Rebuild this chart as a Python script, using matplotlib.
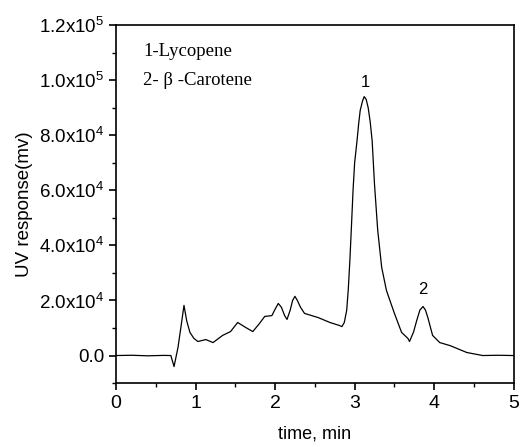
import matplotlib
matplotlib.use('Agg')
import matplotlib.pyplot as plt
from matplotlib.ticker import FixedLocator, MultipleLocator

# Хроматограмма, точки
time_min = [0.0, 0.2, 0.4, 0.6, 0.69, 0.73, 0.78, 0.82, 0.855, 0.89, 0.93, 0.98,
            1.03, 1.13, 1.22, 1.34, 1.44, 1.53, 1.63, 1.72, 1.80, 1.87, 1.96,
            2.00, 2.04, 2.08, 2.12, 2.15, 2.19, 2.22, 2.25, 2.28, 2.32, 2.37,
            2.54, 2.69, 2.81, 2.84, 2.87, 2.90, 2.92, 2.94, 2.96, 2.98, 3.00,
            3.03, 3.05, 3.07, 3.10, 3.12, 3.145, 3.17, 3.195, 3.22, 3.25, 3.29,
            3.34, 3.40, 3.50, 3.59, 3.67, 3.69, 3.74, 3.78, 3.82, 3.86, 3.89,
            3.92, 3.98, 4.07, 4.20, 4.41, 4.61, 4.80, 5.0]
response = [0, 100, -100, 50, 0, -4000, 3000, 11000, 18200, 12500, 8400, 6200,
            5100, 5800, 4700, 7300, 8700, 12000, 10200, 8700, 11500, 14200, 14500,
            16800, 18900, 17500, 14500, 13100, 16500, 20000, 21500, 20000, 17500, 15300,
            13800, 12000, 10900, 10500, 12000, 16400, 24000, 34500, 47000, 60000, 70000,
            78000, 84000, 89000, 92500, 94000, 93000, 90000, 85000, 78000, 62000, 45500,
            32000, 23600, 15300, 8400, 6200, 5100, 8500, 12700, 16500, 17800, 16500,
            13800, 7300, 4700, 3600, 1100, 0, 100, 0]

peak_labels = ['1', '2']
peak_time = [3.13, 3.86]
peak_height = [99000, 24000]

legend_lines = ['1-Lycopene', '2- β -Carotene']

y_ticks = [0, 20000, 40000, 60000, 80000, 100000, 120000]
y_tick_labels = ['0.0', r'$\mathregular{2.0x10^4}$', r'$\mathregular{4.0x10^4}$',
                 r'$\mathregular{6.0x10^4}$', r'$\mathregular{8.0x10^4}$',
                 r'$\mathregular{1.0x10^5}$', r'$\mathregular{1.2x10^5}$']

plt.rcParams['font.family'] = ['Liberation Sans', 'DejaVu Sans']

fig = plt.figure(figsize=(5.2, 4.47), dpi=100)
ax = fig.add_axes([0.223, 0.143, 0.765, 0.801])

ax.plot(time_min, response, color='black', linewidth=0.9)

for lab, t, h in zip(peak_labels, peak_time, peak_height):
    ax.text(t, h, lab, ha='center', va='center', fontsize=12)

ax.text(0.068, 0.925, legend_lines[0], transform=ax.transAxes,
        family=['Liberation Serif', 'DejaVu Serif'], fontsize=13.5, va='center')
ax.text(0.068, 0.846, legend_lines[1], transform=ax.transAxes,
        family=['Liberation Serif', 'DejaVu Serif'], fontsize=13.5, va='center')

ax.set_xlim(0, 5)
ax.set_ylim(-10000, 120000)
ax.xaxis.set_major_locator(MultipleLocator(1))
ax.xaxis.set_minor_locator(MultipleLocator(0.5))
ax.yaxis.set_major_locator(FixedLocator(y_ticks))
ax.set_yticklabels(y_tick_labels)
ax.yaxis.set_minor_locator(MultipleLocator(10000))

ax.tick_params(which='major', direction='out', length=5, width=1.2)
ax.tick_params(which='minor', direction='out', length=3, width=1)
ax.tick_params(axis='x', labelsize=14)
ax.tick_params(axis='y', labelsize=13.5)
for s in ax.spines.values():
    s.set_linewidth(1.2)

ax.set_xlabel('time, min', fontsize=13, labelpad=10)
ax.set_ylabel('UV response(mv)', fontsize=13.5, labelpad=4)

plt.savefig('out.png', dpi=100)
plt.close()
